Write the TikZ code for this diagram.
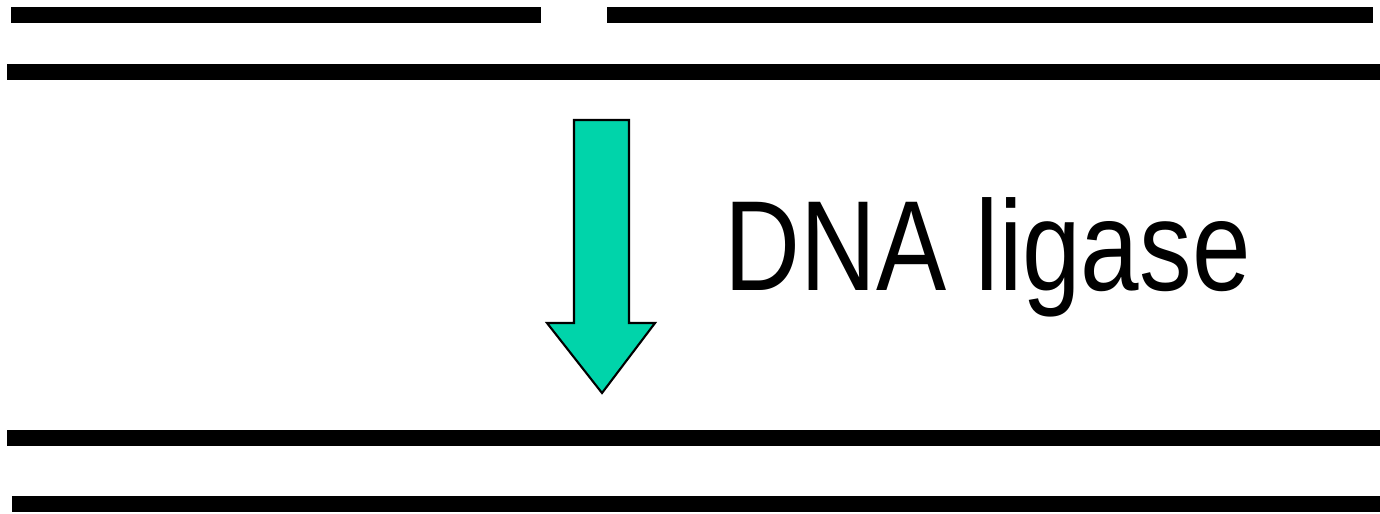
\documentclass[tikz,border=0pt]{standalone}
\usepackage{fontspec}
\setmainfont{Liberation Sans}
\definecolor{ligasegreen}{RGB}{0,212,170}

\begin{document}
\begin{tikzpicture}[strand/.style={line width=0.16cm, line cap=butt}]

        \useasboundingbox (0, 0) rectangle (13.8, 5.13);

        \draw[strand] (0.11, 4.98) -- (5.41, 4.98);
        \draw[strand] (6.07, 4.98) -- (13.73, 4.98);
        \draw[strand] (0.07, 4.41) -- (13.8, 4.41);

        \draw[strand] (0.07, 0.75) -- (13.8, 0.75);
        \draw[strand] (0.12, 0.09) -- (13.8, 0.09);

        \coordinate (tip) at (6.02, 1.20);
        \draw[black, line width=0.6pt, fill=ligasegreen, line join=miter]
            (5.74, 3.93) -- (6.29, 3.93) -- (6.29, 1.90) -- (6.55, 1.90)
            -- (tip) -- (5.47, 1.90) -- (5.74, 1.90) -- cycle;

        \node[anchor=base west, inner sep=0pt, xscale=0.82] (ligase) at (7.24, 2.23)
            {\fontsize{36.5}{40}\selectfont DNA ligase};
    \end{tikzpicture}
\end{document}
